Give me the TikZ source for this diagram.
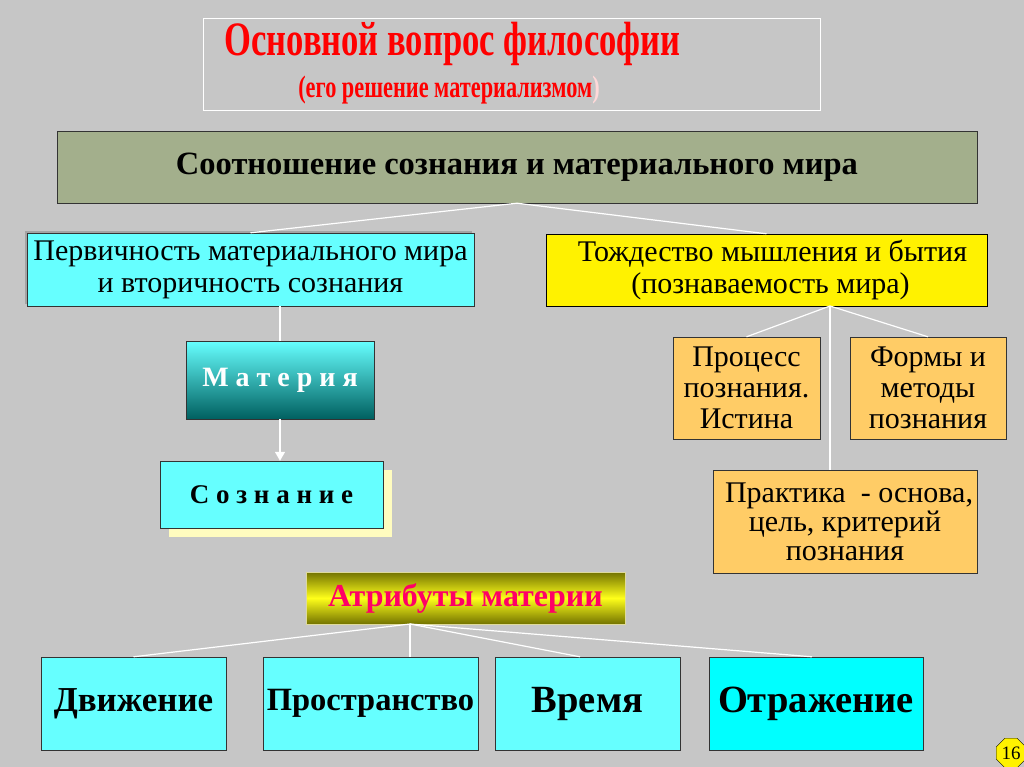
\documentclass[tikz,border=0pt]{standalone}
\usepackage{fontspec}
\setmainfont{Liberation Serif}
\newfontfamily\narrowserif[FakeStretch=0.72]{Liberation Serif}
\usepackage{tikz}
\usepackage{xcolor}
\usetikzlibrary{shapes.geometric,shadows,arrows.meta}
\definecolor{bg-gray}{HTML}{C6C6C6}
\definecolor{olive-gray}{HTML}{A3AF8C}
\definecolor{light-cyan}{HTML}{66FFFF}
\definecolor{full-cyan}{HTML}{00FFFF}
\definecolor{soft-orange}{HTML}{FFCC66}
\definecolor{attr-red}{HTML}{FF0066}
\tikzset{
    plain-box/.style = {draw=black!80, thin, rectangle, inner sep=1pt, align=center},
    cyan-box/.style = {plain-box, fill=light-cyan},
    orange-box/.style = {plain-box, fill=soft-orange, font=\fontsize{30}{31}\selectfont},
    attr-box/.style = {cyan-box, minimum height=93pt, font=\bfseries\fontsize{35}{37}\selectfont},
    link-line/.style = {draw=white, line width=1.2pt},
}

\begin{document}
\begin{tikzpicture}[x=1pt, y=-1pt]
\fill[bg-gray] (0,0) rectangle (1024,767);
\useasboundingbox (0,0) rectangle (1024,767);

% title
\node [draw=white, thin, minimum width=617pt, minimum height=92pt] (title) at (511.5,64) {};
\node [text=red, font=\narrowserif\bfseries\fontsize{48}{50}\selectfont] (title-main) at (452.5,44) {Основной вопрос философии};
\node [text=red, font=\narrowserif\bfseries\fontsize{31}{33}\selectfont] (title-sub) at (449,90) {(его решение материализмом\textcolor{white!85!red}{)}};

% top level
\node [plain-box, fill=olive-gray, minimum width=920pt, minimum height=72pt,
       font=\bfseries\fontsize{32.5}{34}\selectfont] (relation) at (517,167) {Соотношение сознания и материального мира};
\node [cyan-box, minimum width=447pt, minimum height=73pt, font=\fontsize{30}{32}\selectfont,
       drop shadow={fill=black!45, opacity=0.6, shadow xshift=-2pt, shadow yshift=2pt}] (primacy) at (250.5,269.5)
      {Первичность материального мира\\и вторичность сознания};
\node [plain-box, fill=yellow, draw=black, minimum width=441pt, minimum height=72pt,
       font=\fontsize{30}{32}\selectfont] (identity) at (766.5,270)
      {\hspace*{12pt}Тождество мышления и бытия\\\hspace*{8pt}(познаваемость мира)};

% matter and consciousness
\node [plain-box, top color=light-cyan, bottom color=teal!75!black, minimum width=188pt, minimum height=78pt,
       text=white, font=\bfseries\fontsize{28}{30}\selectfont] (matter) at (280,380) {М а т е р и я};
\node [cyan-box, minimum width=223pt, minimum height=67pt, font=\bfseries\fontsize{27}{29}\selectfont,
       drop shadow={fill=yellow!25, opacity=1, shadow xshift=9pt, shadow yshift=-9pt}] (mind) at (271.5,494.5)
      {С о з н а н и е};

% cognition
\node [orange-box, minimum width=147pt, minimum height=102pt] (process) at (746.5,388) {Процесс\\познания.\\Истина};
\node [orange-box, minimum width=156pt, minimum height=102pt] (forms) at (928,388) {Формы и\\методы\\познания};
\node [orange-box, minimum width=264pt, minimum height=103pt, font=\fontsize{30}{29}\selectfont] (practice) at (845,521.5)
      {\hspace*{8pt}Практика \ - основа,\\цель, критерий\\познания};

% attributes
\node [plain-box, draw=white!70!olive, top color=olive!90!black, bottom color=olive!90!black, middle color=yellow!90!white,
       minimum width=319pt, minimum height=52pt, text=attr-red, font=\bfseries\fontsize{32}{34}\selectfont]
      (attrs) at (465.5,598) {Атрибуты материи};
\node [attr-box, minimum width=185pt] (motion) at (133.5,703.5) {Движение};
\node [attr-box, minimum width=215pt, font=\bfseries\fontsize{32.5}{34}\selectfont] (space) at (370.5,703.5) {Пространство};
\node [attr-box, minimum width=185pt, font=\bfseries\fontsize{38.5}{40}\selectfont] (time) at (587.5,703.5) {Время};
\node [attr-box, fill=full-cyan, minimum width=214pt, font=\bfseries\fontsize{38.5}{40}\selectfont] (reflection) at (816,703.5) {Отражение};

% page number
\node [regular polygon, regular polygon sides=8, draw=black, fill=yellow, minimum size=32pt,
       inner sep=0pt, font=\fontsize{19}{19}\selectfont] (page-num) at (1011,753) {16};

% connectors
\coordinate (identity-fork) at (830,306);
\coordinate (attrs-fork) at (410,624);
\draw [link-line] (relation.south) -- (primacy.north);
\draw [link-line] (relation.south) -- (identity.north);
\draw [link-line] (matter.north |- primacy.south) -- (matter.north);
\draw [link-line, -{Triangle[width=10pt,length=9pt,fill=white]}] (matter.south) -- (mind.north -| matter.south);
\draw [link-line] (identity-fork) -- (process.north);
\draw [link-line] (identity-fork) -- (forms.north);
\draw [link-line] (identity-fork) -- (identity-fork |- practice.north);
\draw [link-line] (attrs-fork) -- (motion.north);
\draw [link-line] (attrs-fork) -- (attrs-fork |- space.north);
\draw [link-line] (attrs-fork) -- (time.north -| 580,0);
\draw [link-line] (attrs-fork) -- (reflection.north -| 812,0);
\end{tikzpicture}
\end{document}
